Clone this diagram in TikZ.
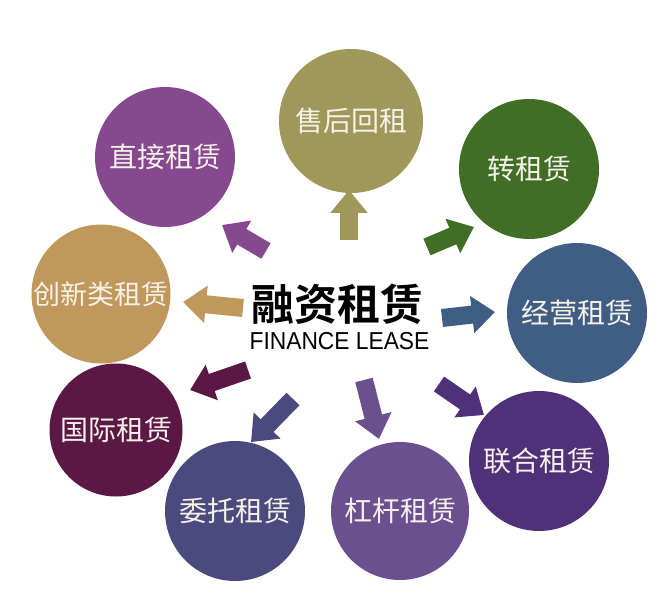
\documentclass[tikz,border=0pt]{standalone}
\usepackage{fontspec}
\usepackage{graphicx}
\usetikzlibrary{arrows.meta}
\setmainfont{Liberation Sans}
\newfontfamily\cjk{Noto Sans CJK SC}
\newfontfamily\cjkb{Noto Sans CJK SC Bold}
\definecolor{cOlive}{HTML}{A0985A}
\definecolor{cPurple}{HTML}{86488E}
\definecolor{cGreen}{HTML}{3F6E24}
\definecolor{cTan}{HTML}{C0985C}
\definecolor{cBlue}{HTML}{405E84}
\definecolor{cMaroon}{HTML}{5C1844}
\definecolor{cSlate}{HTML}{4A4A7E}
\definecolor{cViolet}{HTML}{6A508E}
\definecolor{cDeep}{HTML}{4F3079}
\definecolor{cText}{HTML}{F6F2EA}
\tikzset{
  bub/.style={circle, minimum size=140pt, inner sep=0pt, text=cText,
    font=\cjk\fontsize{28}{30}\selectfont},
  blk/.style={line width=18pt, -{Triangle[width=36pt,length=23pt]}}
}
\begin{document}
\begin{tikzpicture}[x=1pt,y=-1pt]
\useasboundingbox[fill=white] (0,0) rectangle (672,604);
% circles
\node[bub, fill=cOlive, minimum size=144pt] (c1) at (351,121) {\raisebox{-4pt}{售后回租}};
\node[bub, fill=cPurple] (c2) at (165,157) {\raisebox{-5pt}{直接租赁}};
\node[bub, fill=cGreen] (c3) at (529,169) {\raisebox{-8pt}{转租赁}};
\node[bub, fill=cTan, minimum size=139pt, font=\cjk\fontsize{27}{30}\selectfont] (c4) at (101,294) {\raisebox{-2pt}{创新类租赁}};
\node[bub, fill=cBlue] (c5) at (577,313) {\raisebox{3pt}{经营租赁}};
\node[bub, fill=cMaroon, minimum size=133pt] (c6) at (116,430) {\raisebox{-4pt}{国际租赁}};
\node[bub, fill=cSlate] (c7) at (235,511) {委托租赁};
\node[bub, fill=cViolet, minimum size=138pt] (c8) at (400,511) {\raisebox{-3pt}{杠杆租赁}};
\node[bub, fill=cDeep] (c9) at (539,461) {联合租赁};
% centre title
\node[font=\cjkb\fontsize{43}{45}\selectfont, inner sep=0pt] (t) at (337,304) {融资租赁};
\node[font=\fontsize{24.5}{26}\selectfont, inner sep=0pt] (te) at (339.5,341) {\scalebox{0.93}[1]{FINANCE LEASE}};
% arrow ends
\coordinate (a1s) at (349,240); \coordinate (a1e) at (349,190);
\coordinate (a2s) at (266,251); \coordinate (a2e) at (222,225);
\coordinate (a3s) at (427,247); \coordinate (a3e) at (474,227);
\coordinate (a4s) at (243,308); \coordinate (a4e) at (183,302);
\coordinate (a5s) at (442,318); \coordinate (a5e) at (495,312);
\coordinate (a6s) at (248,370); \coordinate (a6e) at (190,390);
\coordinate (a7s) at (293,399); \coordinate (a7e) at (251,442);
\coordinate (a8s) at (364,380); \coordinate (a8e) at (379,439);
\coordinate (a9s) at (439,384); \coordinate (a9e) at (484,415);
\draw[blk, cOlive] (a1s) -- (a1e);
\draw[blk, cPurple] (a2s) -- (a2e);
\draw[blk, cGreen] (a3s) -- (a3e);
\draw[blk, cTan] (a4s) -- (a4e);
\draw[blk, cBlue] (a5s) -- (a5e);
\draw[blk, cMaroon] (a6s) -- (a6e);
\draw[blk, cSlate] (a7s) -- (a7e);
\draw[blk, cViolet] (a8s) -- (a8e);
\draw[blk, cDeep] (a9s) -- (a9e);
\end{tikzpicture}
\end{document}
